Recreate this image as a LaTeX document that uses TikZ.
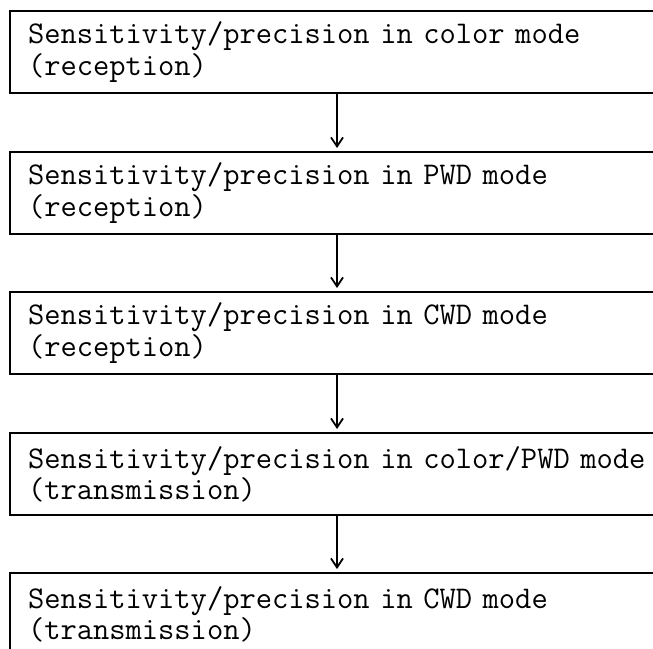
\documentclass[tikz,border=0pt]{standalone}
\usepackage{tikz}
\usetikzlibrary{arrows.meta,positioning,calc}

\begin{document}
\begin{tikzpicture}[
    x=0.5pt, y=-0.5pt,
    >={Straight Barb[length=4.5pt,width=6pt,line width=0.9pt]},
    stage/.style={rectangle, draw=black, line width=1pt, anchor=north west,
                  minimum width=330pt, minimum height=41pt, inner xsep=9pt,
                  text width=312pt, align=left,
                  font=\fontsize{15.8}{14.5}\selectfont\ttfamily},
    arr/.style={->, line width=0.8pt}
  ]
    \useasboundingbox (0,0) rectangle (653,648);

    %--- measurement stages, top to bottom ---
    \node[stage] (colrx) at (9, 10)  {Sensitivity/precision in color mode\\(reception)};
    \node[stage] (pwdrx) at (9, 151) {Sensitivity/precision in PWD mode\\(reception)};
    \node[stage] (cwdrx) at (9, 291) {Sensitivity/precision in CWD mode\\(reception)};
    \node[stage] (coltx) at (9, 432) {Sensitivity/precision in color/PWD mode\\(transmission)};
    \node[stage] (cwdtx) at (9, 572) {Sensitivity/precision in CWD mode\\(transmission)};

    %--- sequence arrows ---
    \foreach \a/\b in {colrx/pwdrx, pwdrx/cwdrx, cwdrx/coltx, coltx/cwdtx}
      \draw[arr] ([xshift=164pt]\a.south west) -- ([xshift=164pt, yshift=1.5pt]\b.north west);
\end{tikzpicture}
\end{document}
